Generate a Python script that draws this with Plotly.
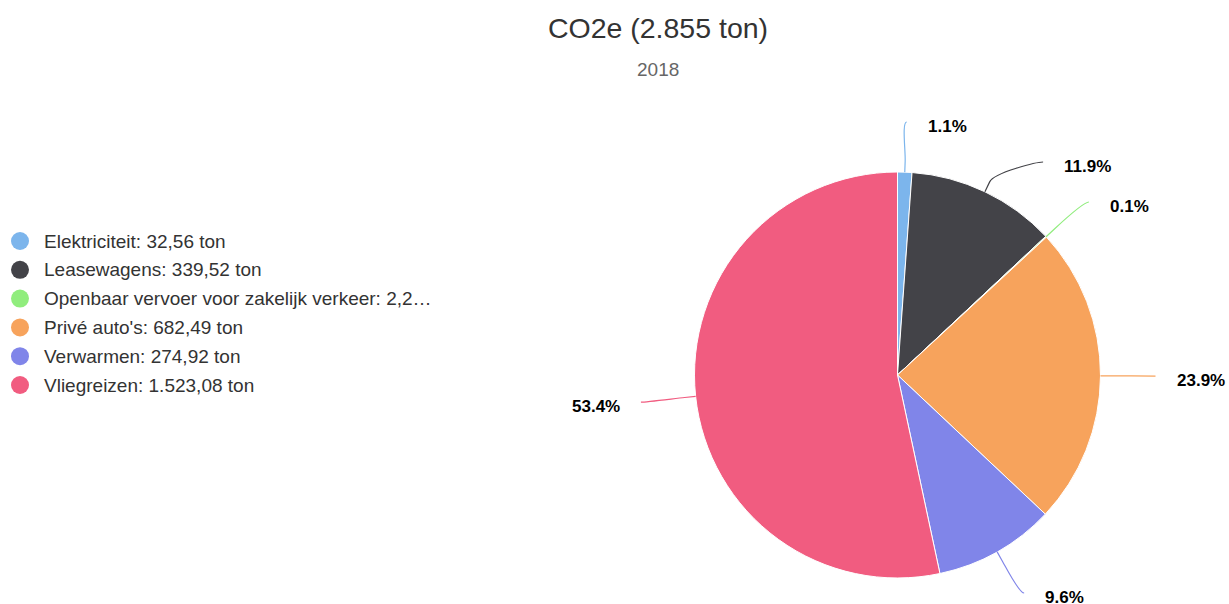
import math
import plotly.graph_objects as go

# ---------------- data ----------------
categories = ["Elektriciteit", "Leasewagens", "Openbaar vervoer voor zakelijk verkeer",
              "Privé auto's", "Verwarmen", "Vliegreizen"]
values = [32.56, 339.52, 2.25, 682.49, 274.92, 1523.08]
colors = ["#7cb5ec", "#434348", "#90ed7d", "#f7a35c", "#8085e9", "#f15c80"]
subtitle_text = "2018"

# ---------------- layout constants (pixels) ----------------
W, H = 1229, 604
CX, CY, R = 897.5, 375.0, 203.0
LABEL_DIST = 55.0
LABEL_H = 40.0
Y_MIN, Y_MAX = 122.0, 593.0
FONT = "Liberation Sans, Arial, Helvetica, sans-serif"
LEG_X, LEG_Y0, LEG_STEP, LEG_R = 20.0, 241.0, 28.8, 9.0


def nl(v, dec=2):
    s = f"{v:,.{dec}f}"
    return s.replace(",", "X").replace(".", ",").replace("X", ".")


total = sum(values)
title_text = f"CO2e ({nl(total, 0)} ton)"

legend_labels = []
for c, v in zip(categories, values):
    s = f"{c}: {nl(v)} ton"
    if len(s) > 43:
        s = s[:43] + "…"
    legend_labels.append(s)

fig = go.Figure()

fig.add_trace(go.Pie(
    labels=categories, values=values, sort=False, direction="clockwise", rotation=0,
    marker=dict(colors=colors, line=dict(color="#ffffff", width=1)),
    textinfo="none", showlegend=False, hoverinfo="label+value+percent",
    domain=dict(x=[(CX - R) / W, (CX + R) / W], y=[(H - CY - R) / H, (H - CY + R) / H]),
))
# invisible helper trace so the pixel-space axes exist
fig.add_trace(go.Scatter(x=[None], y=[None], mode="markers", showlegend=False,
                         hoverinfo="skip", xaxis="x", yaxis="y"))

shapes = []
annotations = []

# ---------------- legend (drawn manually: round symbols) ----------------
for k, (lab, col) in enumerate(zip(legend_labels, colors)):
    yy = LEG_Y0 + k * LEG_STEP
    shapes.append(dict(type="circle", xref="x", yref="y",
                       x0=LEG_X - LEG_R, x1=LEG_X + LEG_R, y0=yy - LEG_R, y1=yy + LEG_R,
                       fillcolor=col, line=dict(width=0), layer="above"))
    annotations.append(dict(x=42, y=yy, xref="x", yref="y", text=lab, showarrow=False,
                            xanchor="left", yanchor="middle",
                            font=dict(family=FONT, size=19, color="#333333")))

# ---------------- data labels with connectors ----------------
RL = R + LABEL_DIST
items = []
cum = 0.0
for i, v in enumerate(values):
    frac_mid = (cum + v / 2) / total
    cum += v
    th = 2 * math.pi * frac_mid  # clockwise from top
    sx, sy = math.sin(th), -math.cos(th)
    items.append(dict(i=i, th=th, sx=sx, sy=sy, right=sx >= 0,
                      ny=CY + RL * sy, pct=f"{100 * v / total:.1f}%"))


def get_x(y, right):
    d = max(-1.0, min(1.0, (y - CY) / RL))
    return CX + (1 if right else -1) * math.cos(math.asin(d)) * RL


for side in (True, False):
    grp = sorted([it for it in items if it["right"] == side], key=lambda t: t["ny"])
    ys = []
    prev = None
    for it in grp:
        y = max(it["ny"], Y_MIN)
        if prev is not None:
            y = max(y, prev + LABEL_H)
        ys.append(y)
        prev = y
    nxt = None
    for k in range(len(grp) - 1, -1, -1):
        y = min(ys[k], Y_MAX)
        if nxt is not None:
            y = min(y, nxt - LABEL_H)
        ys[k] = y
        nxt = y
    for it, y in zip(grp, ys):
        clamped = y <= Y_MIN + 0.01 or y >= Y_MAX - 0.01
        it["y"] = y
        it["x"] = get_x(it["ny"] if clamped else y, side)

for it in items:
    col = colors[it["i"]]
    tx, ty = CX + R * it["sx"], CY + R * it["sy"]
    bx, by = CX + (R + 11) * it["sx"], CY + (R + 11) * it["sy"]
    ex, ey = it["x"], it["y"]
    c1x = ex + (-5 if it["right"] else 5)
    path = (f"M {ex:.2f},{ey:.2f} C {c1x:.2f},{ey:.2f} {2*bx-tx:.2f},{2*by-ty:.2f} "
            f"{bx:.2f},{by:.2f} L {tx:.2f},{ty:.2f}")
    shapes.append(dict(type="path", path=path, xref="x", yref="y",
                       line=dict(color=col, width=1.2), layer="above"))
    annotations.append(dict(
        x=ex + (19 if it["right"] else -19), y=ey + 4, xref="x", yref="y",
        text=f"<b>{it['pct']}</b>", showarrow=False,
        xanchor="left" if it["right"] else "right", yanchor="middle",
        font=dict(family=FONT, size=17, color="#000000")))

annotations.append(dict(x=658, y=69, xref="x", yref="y", text=subtitle_text, showarrow=False,
                        xanchor="center", yanchor="middle",
                        font=dict(family=FONT, size=19, color="#666666")))

fig.update_layout(
    width=W, height=H, autosize=False,
    margin=dict(l=0, r=0, t=0, b=0),
    paper_bgcolor="#ffffff", plot_bgcolor="rgba(0,0,0,0)",
    font=dict(family=FONT, color="#333333"),
    title=dict(text=title_text, x=658 / W, xanchor="center", y=1 - 28 / H, yanchor="middle",
               font=dict(family=FONT, size=28.5, color="#333333")),
    xaxis=dict(range=[0, W], visible=False, fixedrange=True, domain=[0, 1]),
    yaxis=dict(range=[H, 0], visible=False, fixedrange=True, domain=[0, 1]),
    shapes=shapes, annotations=annotations, showlegend=False,
)

fig.write_html("out.html", config={"displayModeBar": False},
               post_script="document.body.style.margin='0';document.body.style.overflow='hidden';")
